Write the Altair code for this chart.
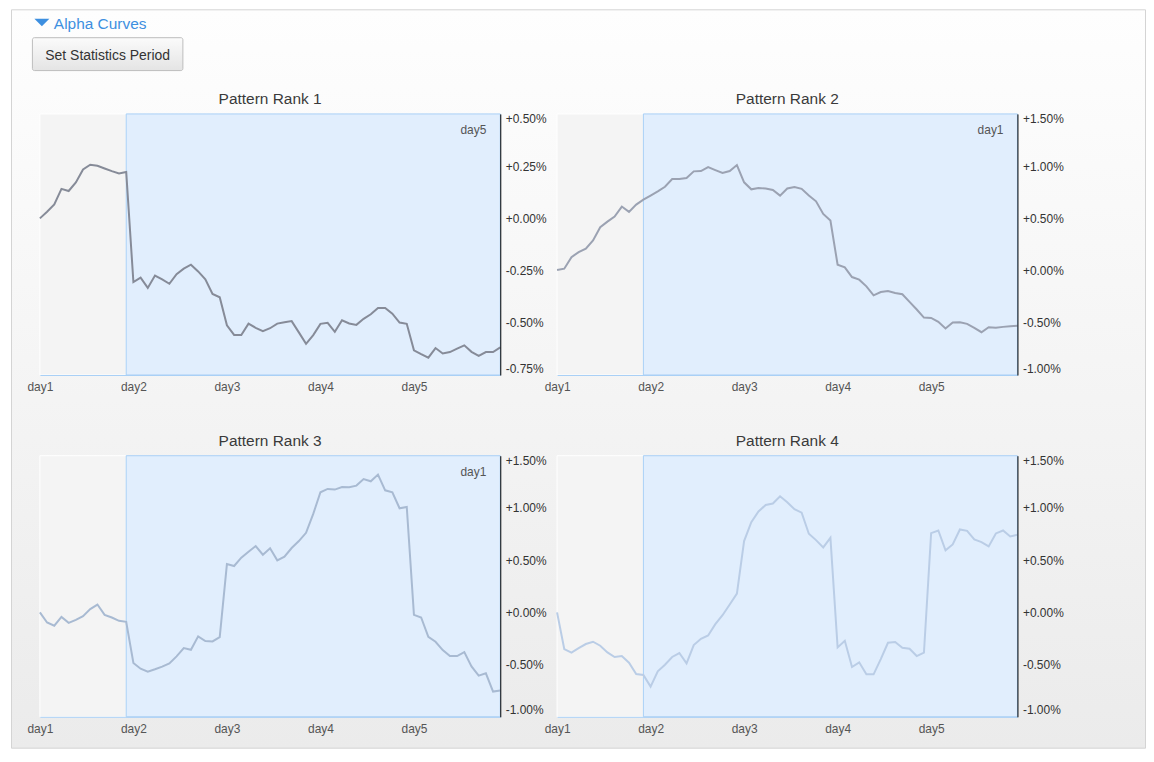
import json
import altair as alt
import pandas as pd

FONT = "Liberation Sans"

# ---------------- data ----------------
day_labels = ["day1", "day2", "day3", "day4", "day5"]
day_ticks = [0, 13, 26, 39, 52]          # point index where each day starts
n_points = 65
band_start = 12                            # statistics period starts here

titles = ["Pattern Rank 1", "Pattern Rank 2", "Pattern Rank 3", "Pattern Rank 4"]
notes = ["day5", "day1", "day1", ""]

rank1 = [0.000, 0.032, 0.067, 0.141, 0.131, 0.172, 0.234, 0.257, 0.252, 0.239,
         0.226, 0.215, 0.222, -0.305, -0.284, -0.333, -0.274, -0.292, -0.313, -0.267,
         -0.241, -0.222, -0.254, -0.292, -0.362, -0.378, -0.512, -0.558, -0.558, -0.504,
         -0.524, -0.540, -0.526, -0.504, -0.497, -0.492, -0.546, -0.601, -0.559, -0.505,
         -0.500, -0.543, -0.488, -0.503, -0.510, -0.481, -0.459, -0.429, -0.429, -0.456,
         -0.499, -0.505, -0.632, -0.650, -0.667, -0.621, -0.647, -0.640, -0.624, -0.608,
         -0.639, -0.658, -0.640, -0.640, -0.618]
rank2 = [0.005, 0.018, 0.129, 0.177, 0.209, 0.288, 0.415, 0.469, 0.517, 0.613,
         0.562, 0.632, 0.679, 0.718, 0.759, 0.803, 0.877, 0.877, 0.886, 0.950,
         0.953, 0.991, 0.962, 0.934, 0.953, 1.010, 0.845, 0.778, 0.791, 0.786,
         0.772, 0.718, 0.786, 0.800, 0.783, 0.718, 0.663, 0.543, 0.479, 0.056,
         0.031, -0.062, -0.087, -0.151, -0.237, -0.205, -0.195, -0.214, -0.227, -0.300,
         -0.373, -0.450, -0.453, -0.491, -0.555, -0.497, -0.494, -0.510, -0.548, -0.590,
         -0.542, -0.548, -0.539, -0.532, -0.529]
rank3 = [0.000, -0.097, -0.128, -0.043, -0.100, -0.071, -0.036, 0.031, 0.075, -0.024,
         -0.049, -0.081, -0.090, -0.485, -0.539, -0.567, -0.545, -0.520, -0.488, -0.421,
         -0.342, -0.358, -0.230, -0.275, -0.278, -0.237, 0.463, 0.444, 0.524, 0.581,
         0.635, 0.552, 0.613, 0.498, 0.533, 0.616, 0.683, 0.762, 0.943, 1.150,
         1.182, 1.176, 1.201, 1.198, 1.214, 1.277, 1.255, 1.319, 1.169, 1.150,
         0.997, 1.010, -0.024, -0.049, -0.234, -0.281, -0.361, -0.418, -0.418, -0.380,
         -0.517, -0.606, -0.583, -0.758, -0.749]
rank4 = [0.000, -0.351, -0.386, -0.342, -0.303, -0.281, -0.319, -0.383, -0.427, -0.418,
         -0.482, -0.590, -0.599, -0.711, -0.564, -0.501, -0.427, -0.389, -0.488, -0.313,
         -0.253, -0.221, -0.113, -0.027, 0.075, 0.180, 0.683, 0.864, 0.966, 1.029,
         1.042, 1.112, 1.055, 0.988, 0.955, 0.753, 0.692, 0.622, 0.714, -0.335,
         -0.272, -0.523, -0.478, -0.593, -0.593, -0.447, -0.291, -0.284, -0.338, -0.348,
         -0.418, -0.386, 0.759, 0.784, 0.594, 0.651, 0.794, 0.781, 0.698, 0.673,
         0.632, 0.756, 0.784, 0.727, 0.743]

y_ticks_rank1 = [-0.75, -0.5, -0.25, 0.0, 0.25, 0.5]
y_ticks_other = [-1.0, -0.5, 0.0, 0.5, 1.0, 1.5]

series = [rank1, rank2, rank3, rank4]
y_ticks = [y_ticks_rank1, y_ticks_other, y_ticks_other, y_ticks_other]

# ---------------- layout / style ----------------
W, H = 1142, 742
layouts = [  # x_left, x_right, y_top, y_bottom  (chart pixels)
    (32, 494, 105, 367),
    (551, 1013, 105, 367),
    (32, 494, 448, 710),
    (551, 1013, 448, 710),
]
line_colors = ["#868b98", "#9ba2b2", "#a8bad2", "#bacde6"]

one = alt.Data(values=[{}])

y_label_expr = "(datum.value < 0 ? '-' : '+') + format(abs(datum.value), '.2f') + '%'"
x_label_expr = f"{json.dumps(day_labels)}[indexof({json.dumps(day_ticks)}, datum.value)]"


def grad(c0, c1):
    return alt.LinearGradient(
        gradient="linear",
        stops=[alt.GradientStop(color=c0, offset=0), alt.GradientStop(color=c1, offset=1)],
        x1=0, x2=0, y1=0, y2=1,
    )


def panel_layers(k):
    x0, x1, y0, y1 = layouts[k]
    ticks = y_ticks[k]
    lo, hi = ticks[0], ticks[-1]
    last = n_points - 1
    xs = alt.Scale(domain=[0, last], range=[x0, x1], nice=False, zero=False)
    ys = alt.Scale(domain=[lo, hi], range=[y1, y0], nice=False, zero=False)

    def XD(v):
        return alt.XDatum(datum=v, type="quantitative", scale=xs, axis=None)

    def YD(v):
        return alt.YDatum(datum=v, type="quantitative", scale=ys, axis=None)

    gray = alt.Chart(one).mark_rect(fill="#f4f4f4", stroke="#ffffff", strokeWidth=1).encode(
        x=XD(0), x2=alt.X2Datum(datum=band_start), y=YD(lo), y2=alt.Y2Datum(datum=hi)
    )
    blue = alt.Chart(one).mark_rect(fill="#e1eefd", stroke="#a9d0f6", strokeWidth=1).encode(
        x=XD(band_start), x2=alt.X2Datum(datum=last), y=YD(lo), y2=alt.Y2Datum(datum=hi)
    )
    df = pd.DataFrame({"idx": list(range(n_points)), "alpha": series[k]})
    line = alt.Chart(df).mark_line(color=line_colors[k], strokeWidth=2).encode(
        x=alt.X("idx:Q", scale=xs, axis=alt.Axis(
            orient="bottom", offset=y1 - H, values=day_ticks, labelExpr=x_label_expr,
            grid=False, ticks=False, tickSize=0, domainColor="#a9d0f6", domainWidth=1,
            labelPadding=7, labelColor="#555555", labelFontSize=12, labelFont=FONT,
            labelFlush=False, labelOverlap=False, title=None, zindex=1)),
        y=alt.Y("alpha:Q", scale=ys, axis=alt.Axis(
            orient="right", offset=x1 - W, values=ticks, labelExpr=y_label_expr,
            grid=False, ticks=False, tickSize=0, domainColor="#000000", domainWidth=1,
            labelPadding=5, labelColor="#333333", labelFontSize=12, labelFont=FONT,
            labelFlush=True, labelOverlap=False, labelAlign="left", title=None, zindex=1)),
    )
    title = alt.Chart(one).mark_text(
        text=titles[k], font=FONT, fontSize=15.5, color="#3a3a3a", align="center",
        baseline="alphabetic", dy=-9.5
    ).encode(x=XD(last / 2), y=YD(hi))
    layers = [gray, blue, line, title]
    if notes[k]:
        note = alt.Chart(one).mark_text(
            text=notes[k], font=FONT, fontSize=12, color="#555555", align="right",
            baseline="alphabetic", dx=-14, dy=20
        ).encode(x=XD(last), y=YD(hi))
        layers.append(note)
    return layers


# ---------------- page decorations ----------------
box = alt.Chart(one).mark_rect(fill=grad("#fefefe", "#ebebeb"), stroke="#d4d4d4", strokeWidth=1).encode(
    x=alt.value(3.5), x2=alt.value(1141.5), y=alt.value(0.5), y2=alt.value(741.5)
)
tri = alt.Chart(one).mark_point(
    shape="M-1,-0.5L1,-0.5L0,0.5Z", filled=True, size=225, color="#3d8fe0", opacity=1
).encode(x=alt.value(34), y=alt.value(13.3))
head = alt.Chart(one).mark_text(
    text="Alpha Curves", font=FONT, fontSize=15.5, color="#3d8fe0", align="left", baseline="alphabetic"
).encode(x=alt.value(46), y=alt.value(19.5))
button = alt.Chart(one).mark_rect(
    fill=grad("#fbfbfb", "#e4e4e4"), stroke="#bdbdbd", strokeWidth=1, cornerRadius=2
).encode(x=alt.value(24.5), x2=alt.value(175.5), y=alt.value(28.5), y2=alt.value(61.5))
button_text = alt.Chart(one).mark_text(
    text="Set Statistics Period", font=FONT, fontSize=14, color="#333333", align="center",
    baseline="alphabetic"
).encode(x=alt.value(100), y=alt.value(50.5))

all_layers = [box, tri, head, button, button_text]
for k in range(4):
    all_layers.extend(panel_layers(k))

chart = alt.layer(*all_layers).resolve_scale(x="independent", y="independent").resolve_axis(
    x="independent", y="independent"
).properties(
    width=W, height=H, autosize=alt.AutoSizeParams(type="none"), padding=0
).configure(background="#ffffff", font=FONT).configure_view(stroke=None)

chart.save("out.html", embed_options={"renderer": "svg", "actions": False})
